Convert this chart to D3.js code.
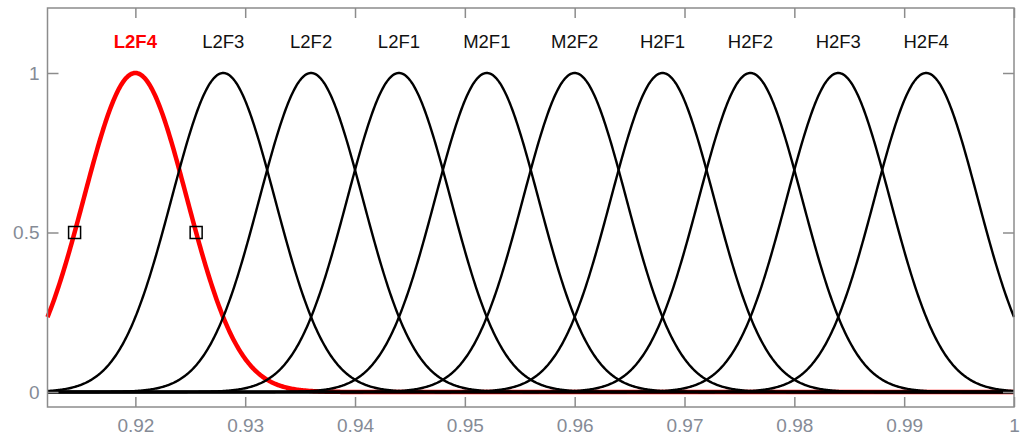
<!DOCTYPE html>
<html>
<head>
<meta charset="utf-8">
<script src="https://cdn.jsdelivr.net/npm/d3@7"></script>
<style>
  body { margin: 0; background: #fff; }
  text { font-family: "Liberation Sans", Arial, sans-serif; }
</style>
</head>
<body>
<div id="chart"></div>
<script>
// membership functions (gaussian), names and centres
var mfNames = ["L2F4", "L2F3", "L2F2", "L2F1", "M2F1", "M2F2", "H2F1", "H2F2", "H2F3", "H2F4"];
var mfCenters = [0.920, 0.928, 0.936, 0.944, 0.952, 0.960, 0.968, 0.976, 0.984, 0.992];
var mfSigma = 0.0047;
var selected = "L2F4";
var xTicks = [0.92, 0.93, 0.94, 0.95, 0.96, 0.97, 0.98, 0.99, 1];
var yTicks = [0, 0.5, 1];

var svgWidth = 1022, svgHeight = 441;
var margin = { left: 47.5, right: 1014, top: 8, bottom: 407 };

var svg = d3.select("#chart").append("svg")
  .attr("width", svgWidth)
  .attr("height", svgHeight);

var x = d3.scaleLinear().domain([0.912, 1.0]).range([margin.left, margin.right]);
var y = d3.scaleLinear().domain([1, 0]).range([73, 392]);

var gauss = function(c) {
  return function(v) { return Math.exp(-Math.pow(v - c, 2) / (2 * mfSigma * mfSigma)); };
};

// sample points along the x domain
var xs = d3.range(0, 881).map(function(i) { return 0.912 + i * 0.0001; });

var line = d3.line()
  .x(function(d) { return x(d[0]); })
  .y(function(d) { return y(d[1]); });

var plot = svg.append("g");

// selected curve first (thick red), others on top
var order = mfNames.slice().sort(function(a, b) { return (a === selected ? -1 : 0) - (b === selected ? -1 : 0); });
order.forEach(function(name) {
  var c = mfCenters[mfNames.indexOf(name)];
  var f = gauss(c);
  plot.append("path")
    .datum(xs.map(function(v) { return [v, f(v)]; }))
    .attr("d", line)
    .attr("fill", "none")
    .attr("stroke", name === selected ? "#ff0000" : "#000")
    .attr("stroke-width", name === selected ? 4.5 : 2.4)
    .attr("stroke-linejoin", "round");
});

// half-height markers on selected curve
var selC = mfCenters[mfNames.indexOf(selected)];
var halfW = mfSigma * Math.sqrt(2 * Math.log(2));
[selC - halfW, selC + halfW].forEach(function(v) {
  plot.append("rect")
    .attr("x", x(v) - 6)
    .attr("y", y(0.5) - 6)
    .attr("width", 12)
    .attr("height", 12)
    .attr("fill", "none")
    .attr("stroke", "#000")
    .attr("stroke-width", 1.5);
});

// labels above peaks
svg.selectAll(".mflabel")
  .data(mfNames)
  .enter()
  .append("text")
  .attr("x", function(d, i) { return x(mfCenters[i]); })
  .attr("y", 48)
  .attr("text-anchor", "middle")
  .attr("font-size", "18.5px")
  .attr("font-weight", function(d) { return d === selected ? "bold" : "normal"; })
  .attr("fill", function(d) { return d === selected ? "#ff0000" : "#111"; })
  .text(function(d) { return d; });

// axes box
var frame = "#8c8c8c";
svg.append("rect")
  .attr("x", margin.left).attr("y", margin.top)
  .attr("width", margin.right - margin.left).attr("height", margin.bottom - margin.top)
  .attr("fill", "none").attr("stroke", frame).attr("stroke-width", 1.5);

var xb = svg.append("g").attr("transform", "translate(0," + margin.bottom + ")")
  .call(d3.axisBottom(x).tickValues(xTicks).tickSize(-10).tickPadding(12)
    .tickFormat(function(d) { return d === 1 ? "1" : d3.format(".2f")(d); }));
var xt = svg.append("g").attr("transform", "translate(0," + margin.top + ")")
  .call(d3.axisTop(x).tickValues(xTicks).tickSize(-10).tickFormat(""));
var yl = svg.append("g").attr("transform", "translate(" + margin.left + ",0)")
  .call(d3.axisLeft(y).tickValues(yTicks).tickSize(-11).tickPadding(8)
    .tickFormat(function(d) { return d === 0.5 ? "0.5" : d3.format("d")(d); }));
var yr = svg.append("g").attr("transform", "translate(" + margin.right + ",0)")
  .call(d3.axisRight(y).tickValues(yTicks).tickSize(-11).tickFormat(""));

[xb, xt, yl, yr].forEach(function(g) {
  g.select(".domain").remove();
  g.selectAll(".tick line").attr("stroke", frame).attr("stroke-width", 1.5);
  g.selectAll(".tick text")
    .attr("font-family", "'Liberation Sans', Arial, sans-serif")
    .attr("font-size", "19px")
    .attr("fill", "#858b96");
});
</script>
</body>
</html>
